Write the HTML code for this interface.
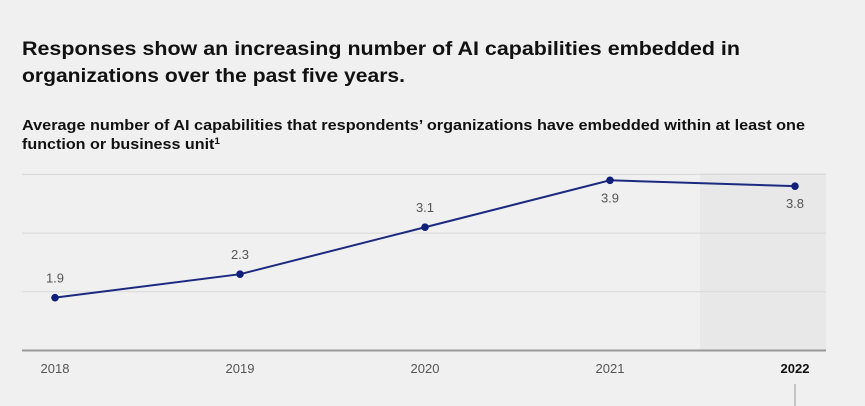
<!DOCTYPE html>
<html><head><meta charset="utf-8"><style>
html,body{margin:0;padding:0;background:#f0f0f0;}
svg{display:block;font-family:"Liberation Sans",sans-serif;}
</style></head><body>
<svg id="chart" width="865" height="406">
<rect width="865" height="406" fill="#f0f0f0"/>
<text x="22" y="55" font-size="19.5" font-weight="bold" fill="#111" textLength="718" lengthAdjust="spacingAndGlyphs">Responses show an increasing number of AI capabilities embedded in</text>
<text x="22" y="82" font-size="19.5" font-weight="bold" fill="#111" textLength="383" lengthAdjust="spacingAndGlyphs">organizations over the past five years.</text>
<text x="22" y="130" font-size="14.5" font-weight="bold" fill="#111" textLength="783" lengthAdjust="spacingAndGlyphs">Average number of AI capabilities that respondents’ organizations have embedded within at least one</text>
<text x="22" y="149" font-size="14.5" font-weight="bold" fill="#111" textLength="198" lengthAdjust="spacingAndGlyphs">function or business unit<tspan font-size="9" dy="-5">1</tspan></text>
<rect x="700" y="173" width="126" height="178" fill="#e8e8e8"/>
<g id="grid"></g>
<g id="series"></g>
<line x1="795" y1="384" x2="795" y2="406" stroke="#999" stroke-width="1"/>
</svg>
<script>
const years = ["2018","2019","2020","2021","2022"];
const values = [1.9, 2.3, 3.1, 3.9, 3.8];
const labels = ["1.9","2.3","3.1","3.9","3.8"];
const gridValues = [2, 3, 4];
const NS="http://www.w3.org/2000/svg";
const x0=55, x1=795, yBase=350.5, pxPerUnit=58.7, yMin=1;
const xScale=i=>x0+(x1-x0)*i/(years.length-1);
const yScale=v=>yBase-(v-yMin)*pxPerUnit;
function mk(tag,attrs,parent){const e=document.createElementNS(NS,tag);for(const k in attrs)e.setAttribute(k,attrs[k]);parent.appendChild(e);return e;}
const grid=document.getElementById('grid'), ser=document.getElementById('series');
gridValues.forEach(v=>{
  const l=mk('line',{x1:22,x2:826,y1:yScale(v),y2:yScale(v),stroke:'#d8d8d8','stroke-width':1},grid);
  
  
});
const ax=mk('line',{x1:22,x2:826,y1:yBase,y2:yBase,stroke:'#999','stroke-width':2},grid);


years.forEach((y,i)=>{
  const t=mk('text',{x:xScale(i),y:373,'text-anchor':'middle','font-size':13,fill:i===years.length-1?'#111':'#555','font-weight':i===years.length-1?'bold':'normal'},grid);
  t.textContent=y;
  
  
});
const pts=values.map((v,i)=>xScale(i)+','+yScale(v)).join(' ');
const pl=mk('polyline',{points:pts,fill:'none',stroke:'#1b2a80','stroke-width':2},ser);


values.forEach((v,i)=>{
  const c=mk('circle',{cx:xScale(i),cy:yScale(v),r:3.8,fill:'#0f1f7a'},ser);
  
  
  const above=i<3;
  const t=mk('text',{x:xScale(i),y:above?yScale(v)-15:yScale(v)+22,'text-anchor':'middle','font-size':13,fill:'#555'},ser);
  t.textContent=labels[i];
  
  
});
</script>
</body></html>
